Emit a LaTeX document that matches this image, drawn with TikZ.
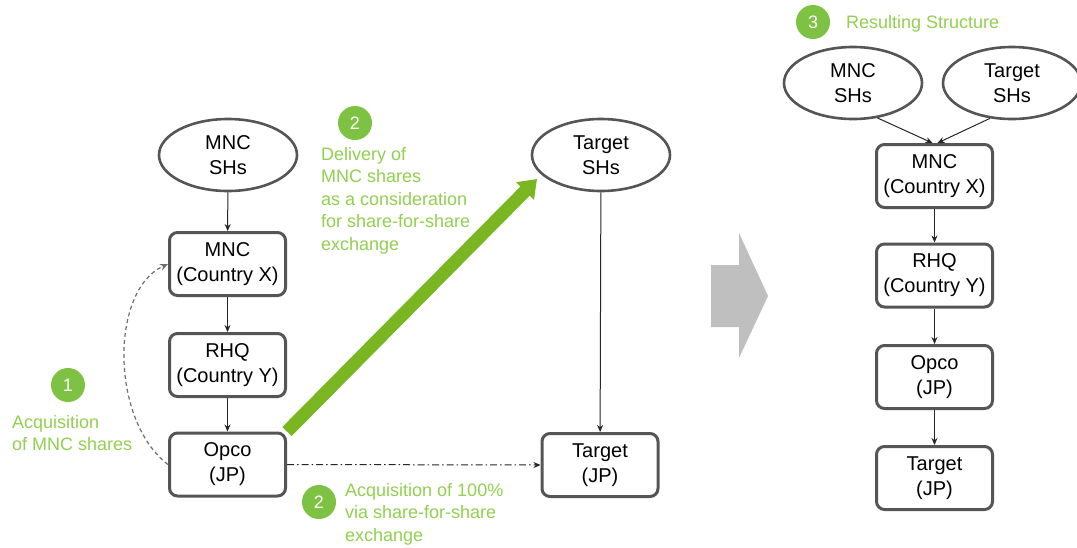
\documentclass[tikz,border=0pt]{standalone}
\usepackage{fontspec}
\setmainfont{Liberation Sans}
\usetikzlibrary{shapes.geometric,arrows.meta,calc,backgrounds}
\definecolor{boxgray}{RGB}{85,85,85}
\definecolor{lgreen}{RGB}{146,208,80}
\definecolor{cgreen}{RGB}{125,194,66}
\definecolor{agreen}{RGB}{122,182,34}
\definecolor{bigarrow}{RGB}{191,191,191}
\definecolor{dashgray}{RGB}{110,110,110}
\begin{document}
\begin{tikzpicture}[x=1pt,y=-1pt,
  entity/.style={draw=boxgray, line width=3pt, rounded corners=8pt, fill=white,
    minimum width=116pt, minimum height=63pt, inner sep=0pt, align=center,
    font=\fontsize{20}{25}\selectfont},
  holder/.style={ellipse, draw=boxgray, line width=2.6pt, fill=white,
    minimum width=138pt, minimum height=72pt, inner sep=0pt, align=center,
    font=\fontsize{20}{25}\selectfont},
  num/.style={circle, fill=cgreen, text=white, minimum size=34pt, inner sep=0pt,
    font=\fontsize{18}{22}\selectfont},
  note/.style={text=lgreen, align=left, inner sep=0pt, anchor=north west,
    font=\fontsize{18}{22.5}\selectfont},
  link/.style={-{Stealth[length=7pt,width=6pt]}, line width=1pt, draw=black!85},
  dashlink/.style={-{Stealth[length=8pt,width=7pt]}, line width=1.2pt, draw=dashgray,
    dash pattern=on 4pt off 3pt},
  dotlink/.style={-{Stealth[length=7pt,width=6pt]}, line width=1pt, draw=black!85,
    dash pattern=on 7pt off 3pt on 1.5pt off 3pt},
  bigshare/.style={-{Triangle[length=17pt,width=24pt]}, line width=13pt, draw=agreen}
]
\useasboundingbox (0,0) rectangle (1077,547);
\clip (0,0) rectangle (1077,547);

% ---------- left structure ----------
\node[holder] (mshL) at (228,155) {MNC\\SHs};
\node[entity] (mncL) at (227.5,264) {MNC\\(Country X)};
\node[entity] (rhqL) at (227.5,365) {RHQ\\(Country Y)};
\node[entity] (opcoL) at (227.5,464.5) {Opco\\(JP)};
\node[holder] (tshL) at (601,155) {Target\\SHs};
\node[entity] (tgtL) at (600,465) {Target\\(JP)};
\coordinate (shareTip) at (537,179);

\begin{scope}[on background layer]
  \fill[white] (0,0) rectangle (1077,547);
  \draw[bigshare] (opcoL.north east) -- (shareTip);
\end{scope}

\draw[link] (mshL) -- (mncL);
\draw[link] (mncL) -- (rhqL);
\draw[link] (rhqL) -- (opcoL);
\draw[link] (tshL) -- (tgtL);
\draw[dotlink] (opcoL.east) -- (tgtL.west);
\draw[dashlink] (opcoL.west) .. controls (110,420) and (110,290) .. (mncL.west);

% labels
\node[num] (n1) at (68,385) {1};
\node[note] (t1) at (12,415) {Acquisition\\of MNC shares};
\node[num] (n2a) at (355,123) {2};
\node[note] (t2a) at (321,147) {Delivery of\\MNC shares\\as a consideration\\for share-for-share\\exchange};
\node[num] (n2b) at (319,502) {2};
\node[note] (t2b) at (345,483) {Acquisition of 100\%\\via share-for-share\\exchange};

% ---------- big grey arrow ----------
\fill[bigarrow] (711,265) -- (739,265) -- (739,233) -- (768,296) -- (739,358)
  -- (739,327) -- (711,327) -- cycle;

% ---------- resulting structure ----------
\node[num] (n3) at (813,22) {3};
\node[note] (t3) at (846,15) {Resulting Structure};
\node[holder] (mshR) at (853,83) {MNC\\SHs};
\node[holder] (tshR) at (1012,83) {Target\\SHs};
\node[entity] (mncR) at (934.5,176) {MNC\\(Country X)};
\node[entity] (rhqR) at (934.5,275.5) {RHQ\\(Country Y)};
\node[entity] (opcoR) at (934.5,377) {Opco\\(JP)};
\node[entity] (tgtR) at (934.5,478) {Target\\(JP)};

\draw[link] (mshR.-55) -- ($(mncR.north)+(-2,0)$);
\draw[link] (tshR.-122) -- ($(mncR.north)+(3,0)$);
\draw[link] (mncR) -- (rhqR);
\draw[link] (rhqR) -- (opcoR);
\draw[link] (opcoR) -- (tgtR);
\end{tikzpicture}
\end{document}
